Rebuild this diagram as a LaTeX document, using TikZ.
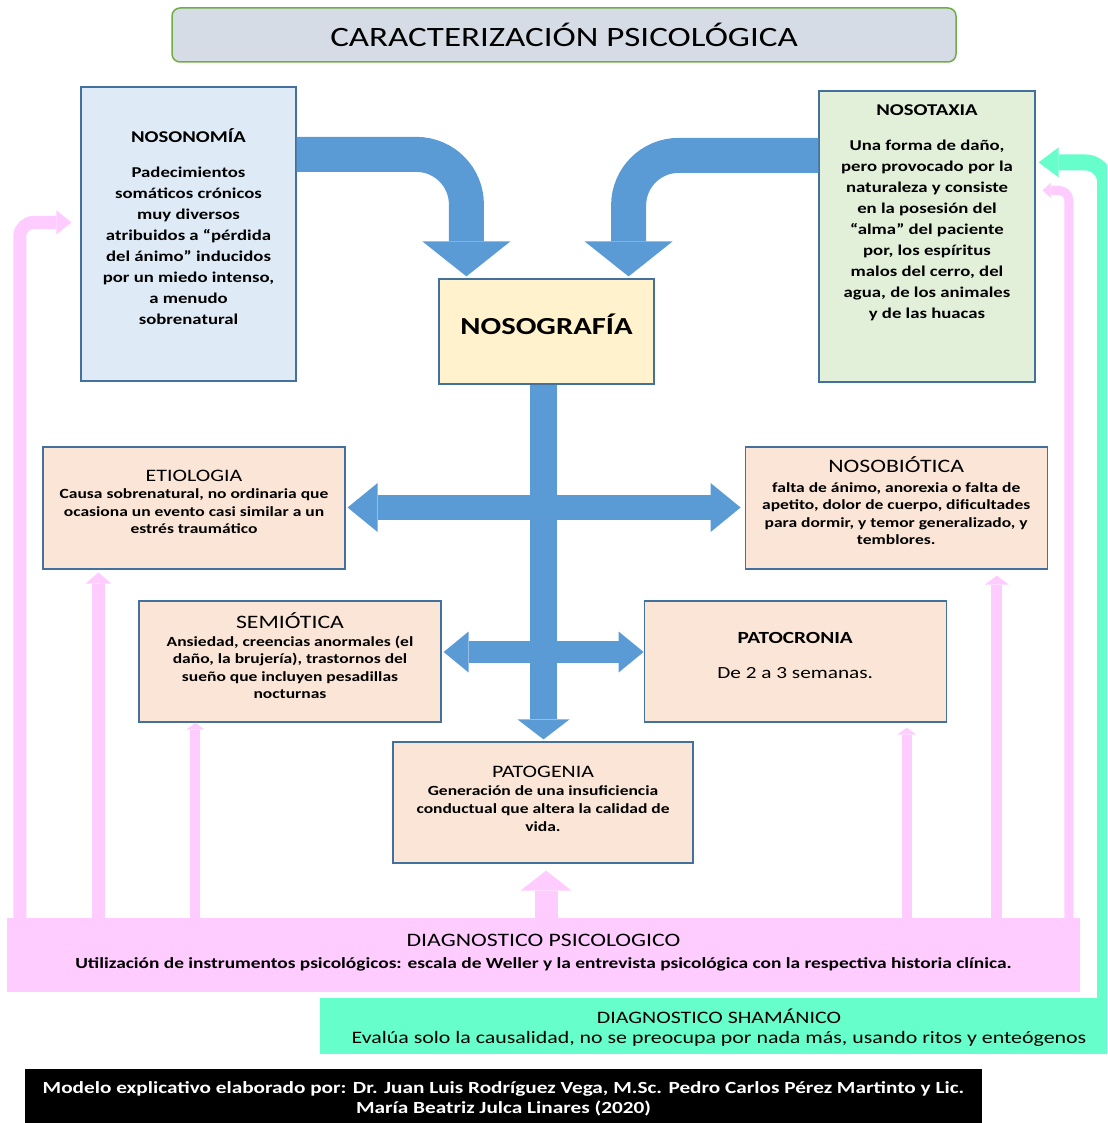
\documentclass[tikz,border=0pt]{standalone}
\usepackage{fontspec}
\setmainfont{Carlito}[FakeStretch=1.25]
\usepackage{xcolor}
\usetikzlibrary{arrows.meta, positioning, calc}

\definecolor{titlefill}{HTML}{D6DCE5}
\definecolor{titleline}{HTML}{70AD47}
\definecolor{boxline}{HTML}{41719C}
\definecolor{bluefill}{HTML}{DEEBF7}
\definecolor{greenfill}{HTML}{E2F0D9}
\definecolor{yellowfill}{HTML}{FFF2CC}
\definecolor{peachfill}{HTML}{FBE5D6}
\definecolor{arrowblue}{HTML}{5B9BD5}
\definecolor{diagpink}{HTML}{FFCCFF}
\definecolor{shamangreen}{HTML}{66FFCC}

\begin{document}
\begin{tikzpicture}[
    x=1pt, y=-1pt,
    box/.style = {draw=boxline, line width=1.2pt, inner sep=0pt},
    txt/.style = {align=center, inner sep=0pt},
    band/.style = {inner sep=0pt},
    blueflow/.style = {draw=arrowblue, line width=#1},
    pinkflow/.style = {draw=diagpink, line width=#1},
                    ]
    \useasboundingbox (0,0) rectangle (1107,1123);
    \clip (0,0) rectangle (1107,1123);

    % title
    \node (title) [draw=titleline, line width=1.5pt, rounded corners=8pt, fill=titlefill,
                   minimum width=784pt, minimum height=54pt,
                   font=\fontsize{28}{32}\selectfont] at (564,35) {CARACTERIZACIÓN PSICOLÓGICA};

    % boxes
    \node (nosonomia)   [box, fill=bluefill,   minimum width=215pt, minimum height=294pt] at (188.5,234) {};
    \node (nosotaxia)   [box, fill=greenfill,  minimum width=216pt, minimum height=291pt] at (927,236.5) {};
    \node (nosografia)  [box, fill=yellowfill, minimum width=215pt, minimum height=105pt] at (546.5,331.5) {};
    \node (etiologia)   [box, fill=peachfill,  minimum width=302pt, minimum height=122pt] at (194,508) {};
    \node (nosobiotica) [box, fill=peachfill,  minimum width=302pt, minimum height=122pt, right=399pt of etiologia] {};
    \node (semiotica)   [box, fill=peachfill,  minimum width=302pt, minimum height=121pt] at (290,661.5) {};
    \node (patocronia)  [box, fill=peachfill,  minimum width=302pt, minimum height=121pt, right=202pt of semiotica] {};
    \node (patogenia)   [box, fill=peachfill,  minimum width=300pt, minimum height=121pt] at (543,802.5) {};
    \node (diagpsi)     [band, fill=diagpink,    minimum width=1073pt, minimum height=74pt] at (543.5,955) {};
    \node (diagsham)    [band, fill=shamangreen, minimum width=790pt,  minimum height=56pt] at (715,1026) {};
    \node (footer)      [band, fill=black,       minimum width=957pt,  minimum height=56pt] at (503.5,1097) {};

    % texts
    \node (nosonomia text) [txt, font=\bfseries\fontsize{15}{21}\selectfont] at ($(nosonomia)+(0,-7)$)
        {{\fontsize{16.5}{21}\selectfont NOSONOMÍA}\\[14pt]
         Padecimientos\\ somáticos crónicos\\ muy diversos\\ atribuidos a “pérdida\\
         del ánimo” inducidos\\ por un miedo intenso,\\ a menudo\\ sobrenatural};
    \node (nosotaxia text) [txt, font=\bfseries\fontsize{15}{21}\selectfont] at ($(nosotaxia)+(0,-24)$)
        {{\fontsize{16.5}{21}\selectfont NOSOTAXIA}\\[14pt]
         Una forma de daño,\\ pero provocado por la\\ naturaleza y consiste\\ en la posesión del\\
         “alma” del paciente\\ por, los espíritus\\ malos del cerro, del\\ agua, de los animales\\ y de las huacas};
    \node (nosografia text) [txt, font=\bfseries\fontsize{24.5}{28}\selectfont] at ($(nosografia)+(0,-7.5)$) {NOSOGRAFÍA};
    \node (etiologia text) [txt, font=\bfseries\fontsize{14}{17.5}\selectfont] at ($(etiologia)+(0,-6)$)
        {{\mdseries\fontsize{17.5}{17.5}\selectfont ETIOLOGIA}\\
         Causa sobrenatural, no ordinaria que\\ ocasiona un evento casi similar a un\\ estrés traumático};
    \node (nosobiotica text) [txt, font=\bfseries\fontsize{14}{17.5}\selectfont] at ($(nosobiotica)+(0,-7.5)$)
        {{\mdseries\fontsize{19}{19}\selectfont NOSOBIÓTICA}\\[2.5pt]
         falta de ánimo, anorexia o falta de\\ apetito, dolor de cuerpo, dificultades\\
         para dormir, y temor generalizado, y\\ temblores.};
    \node (semiotica text) [txt, font=\bfseries\fontsize{14}{17.5}\selectfont] at ($(semiotica)+(0,-5.5)$)
        {{\mdseries\fontsize{19}{19}\selectfont SEMIÓTICA}\\
         Ansiedad, creencias anormales (el\\ daño, la brujería), trastornos del\\
         sueño que incluyen pesadillas\\ nocturnas};
    \node (patocronia text) [txt, font=\fontsize{17}{21}\selectfont] at ($(patocronia)+(0,-6)$)
        {{\bfseries PATOCRONIA}\\[14pt] De 2 a 3 semanas.};
    \node (patogenia text) [txt, font=\bfseries\fontsize{14}{18}\selectfont] at ($(patogenia)+(0,-4)$)
        {{\mdseries\fontsize{17.5}{17.5}\selectfont PATOGENIA}\\
         Generación de una insuficiencia\\ conductual que altera la calidad de\\ vida.};
    \node (diagpsi text) [txt, font=\bfseries\fontsize{15.5}{17.5}\selectfont] at ($(diagpsi)+(0,-2.5)$)
        {{\mdseries\fontsize{19}{19}\selectfont DIAGNOSTICO PSICOLOGICO}\\[4pt]
         Utilización de instrumentos psicológicos: escala de Weller y la entrevista psicológica con la respectiva historia clínica.};
    \node (diagsham text) [txt, font=\fontsize{17.5}{20}\selectfont] at ($(diagsham)+(4,2)$)
        {DIAGNOSTICO SHAMÁNICO\\
         Evalúa solo la causalidad, no se preocupa por nada más, usando ritos y enteógenos};
    \node (footer text) [txt, text=white, font=\bfseries\fontsize{17}{20}\selectfont] at ($(footer)+(0,2)$)
        {Modelo explicativo elaborado por: Dr. Juan Luis Rodríguez Vega, M.Sc. Pedro Carlos Pérez Martinto y Lic.\\
         María Beatriz Julca Linares (2020)};

    % blue arrows
    \draw[blueflow=35pt, rounded corners=50pt, -{Triangle[width=88pt, length=35pt, line width=0pt]}]
        ($(nosonomia.north east)+(0,68)$) -| ($(nosografia.north west)+(28,-2)$);
    \draw[blueflow=35pt, rounded corners=50pt, -{Triangle[width=88pt, length=35pt, line width=0pt]}]
        ($(nosotaxia.north west)+(0,65)$) -| ($(nosografia.north east)+(-26,-2)$);
    \draw[blueflow=27pt, -{Triangle[width=52pt, length=20pt, line width=0pt]}]
        ($(nosografia.south)+(-3,0)$) -- ($(patogenia.north)+(0.5,-2)$);
    \draw[blueflow=25pt, {Triangle[width=49pt, length=30pt, line width=0pt]}-{Triangle[width=49pt, length=30pt, line width=0pt]}]
        ($(etiologia.east)+(2,-0.5)$) -- ($(nosobiotica.west)+(-4,-0.5)$);
    \draw[blueflow=22pt, {Triangle[width=41pt, length=25pt, line width=0pt]}-{Triangle[width=41pt, length=25pt, line width=0pt]}]
        ($(semiotica.east)+(2,-9.5)$) -- ($(patocronia.west)+(0,-9.5)$);

    % pink arrows from DIAGNOSTICO PSICOLOGICO
    \coordinate (p2) at ($(etiologia.south west)+(56,3)$);
    \coordinate (p3) at ($(semiotica.south west)+(57,0)$);
    \coordinate (p4) at ($(patogenia.south)+(3,7)$);
    \coordinate (p5) at ($(patocronia.south east)+(-40,5)$);
    \coordinate (p6) at ($(nosobiotica.south east)+(-51,6)$);
    \draw[pinkflow=13pt, rounded corners=14pt, -{Triangle[width=24pt, length=15pt, line width=0pt]}]
        ($(diagpsi.north west)+(13,0)$) |- ($(nosonomia.north west)+(-9,136)$);
    \draw[pinkflow=13pt, -{Triangle[width=26pt, length=11pt, line width=0pt]}] (p2 |- diagpsi.north) -- (p2);
    \draw[pinkflow=10pt, -{Triangle[width=18pt, length=7pt, line width=0pt]}] (p3 |- diagpsi.north) -- (p3);
    \draw[pinkflow=23pt, -{Triangle[width=51pt, length=20pt, line width=0pt]}] (p4 |- diagpsi.north) -- (p4);
    \draw[pinkflow=10pt, -{Triangle[width=19pt, length=7pt, line width=0pt]}] (p5 |- diagpsi.north) -- (p5);
    \draw[pinkflow=11pt, -{Triangle[width=24pt, length=9pt, line width=0pt]}] (p6 |- diagpsi.north) -- (p6);
    \draw[pinkflow=9pt, rounded corners=10pt, -{Triangle[width=15pt, length=8pt, line width=0pt]}]
        ($(diagpsi.north west)+(1062,0)$) |- ($(nosotaxia.north east)+(7,100)$);

    % green arrow from DIAGNOSTICO SHAMÁNICO
    \draw[draw=shamangreen, line width=16pt, rounded corners=20pt, -{Triangle[width=30pt, length=20pt, line width=0pt]}]
        ($(diagsham.north east)+(-5,0)$) |- ($(nosotaxia.north east)+(3,72)$);
\end{tikzpicture}
\end{document}
